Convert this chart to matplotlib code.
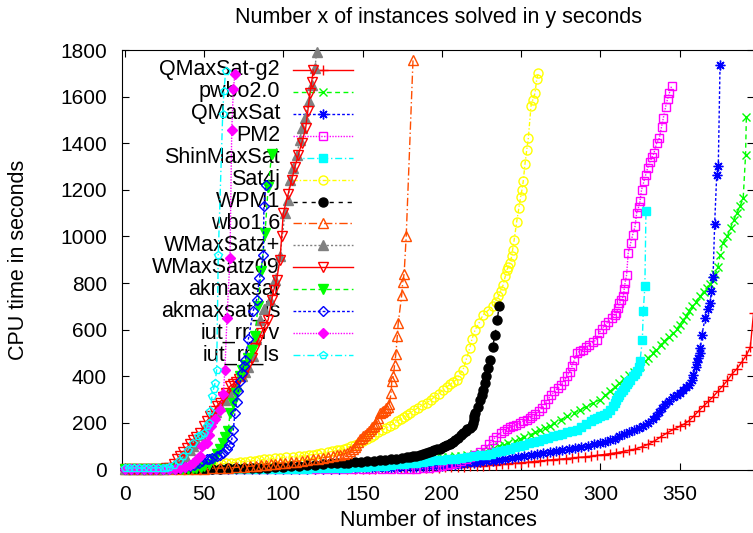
import matplotlib
matplotlib.use('Agg')
import matplotlib.pyplot as plt
from matplotlib.lines import Line2D

plt.rcParams['font.family'] = ['Liberation Sans', 'DejaVu Sans']

# (instances, seconds)
qmaxsat_g2 = [(0, 1), (5, 1), (10, 1), (15, 1), (20, 1), (25, 1), (30, 1), (35, 1), (40, 1), (45, 1), (50, 1),
              (55, 1.5), (60, 1.5), (65, 1.5), (70, 1.5), (75, 2), (80, 2), (85, 2), (90, 2), (95, 2), (100, 2),
              (105, 2), (110, 2.5), (115, 2.5), (120, 3), (125, 3), (130, 3), (135, 3), (140, 3), (145, 3.5),
              (150, 3.5), (154, 4), (158, 4), (162, 4.5), (166, 4.5), (170, 5), (174, 5), (178, 5.5), (182, 6),
              (186, 6.5), (190, 7), (194, 8), (198, 8.5), (202, 9.5), (206, 10.5), (210, 11.5), (214, 12.5),
              (218, 14), (222, 15), (226, 17), (230, 18.5), (234, 21), (238, 23), (242, 25), (246, 27),
              (250, 29), (254, 31), (258, 34), (262, 37), (266, 39), (270, 42), (274, 44), (278, 47), (282, 49),
              (286, 52), (290, 54), (294, 57), (298, 61), (302, 64), (306, 68), (310, 72), (314, 77), (318, 82),
              (322, 88), (326, 97), (330, 108), (334, 122), (338, 140), (342, 157), (346, 172), (350, 185),
              (353, 196), (356, 210), (359, 230), (362, 252), (365, 272), (368, 292), (371, 312), (374, 335),
              (377, 358), (380, 382), (383, 410), (386, 432), (389, 460), (392, 490), (394.5, 525),
              (396.5, 670)]
pwbo20 = [(0, 1), (5, 1), (10, 1), (15, 1), (20, 1), (25, 1), (30, 1.5), (35, 1.5), (40, 2), (45, 2), (50, 2.5),
          (55, 3), (60, 3), (65, 3.5), (70, 4), (75, 4.5), (80, 5), (85, 5.5), (90, 6), (95, 7), (100, 8),
          (105, 9), (110, 10), (115, 11), (120, 13), (125, 14), (130, 17), (135, 19), (140, 22), (144, 24),
          (148, 26), (152, 28), (156, 30), (160, 33), (164, 35), (168, 38), (172, 40), (176, 43), (180, 45),
          (184, 47), (188, 48), (192, 50), (196, 52), (200, 53), (204, 55), (208, 57), (212, 60), (216, 62),
          (220, 66), (224, 70), (227, 77), (230, 84), (233, 92), (236, 100), (239, 107), (242, 114),
          (246, 122), (249, 129), (252, 138), (256, 150), (259, 159), (262, 168), (265, 177), (268, 186),
          (271, 200), (275, 214), (279, 228), (283, 243), (287, 256), (291, 270), (295, 285), (300, 300),
          (303, 318), (306, 335), (309, 353), (312, 371), (315, 388), (318, 405), (321, 420), (325, 443),
          (328, 464), (330, 478), (333, 500), (335, 514), (338, 535), (340, 550), (343, 568), (346, 586),
          (348, 603), (350, 620), (352, 640), (354, 657), (356, 680), (358, 700), (360, 720), (363, 743),
          (365, 762), (367, 780), (369, 797), (371, 814), (372.5, 840), (374, 871), (375.5, 920), (377, 971),
          (380, 1000), (382, 1037), (384, 1070), (386, 1100), (388, 1130), (390, 1164), (391.5, 1350),
          (392, 1514)]
qmaxsat = [(0, 0.5), (5, 0.5), (10, 0.5), (15, 0.5), (20, 0.5), (25, 0.5), (30, 0.5), (35, 0.5), (40, 1),
           (45, 1), (50, 1), (55, 1), (60, 1), (65, 1), (70, 1), (75, 1.2), (80, 1.5), (85, 1.5), (90, 1.8),
           (95, 2), (100, 2), (105, 2.2), (110, 2.5), (115, 2.8), (120, 3), (125, 3.3), (130, 3.5), (135, 4),
           (140, 4.5), (145, 5), (148, 5.5), (152, 6), (156, 6.5), (160, 7), (164, 7.5), (168, 8), (172, 8.5),
           (176, 9), (180, 10), (184, 11), (188, 12.5), (192, 14), (196, 15.5), (200, 17), (204, 19), (208, 21),
           (212, 23.5), (216, 26), (220, 28.5), (224, 31), (228, 34.5), (232, 38), (236, 42), (240, 46),
           (244, 50), (248, 54), (252, 58), (256, 62), (260, 66), (264, 71), (268, 75), (272, 79), (276, 83),
           (280, 87), (284, 92), (288, 97), (292, 102), (296, 108), (300, 114), (303, 119), (306, 125),
           (309, 133), (312, 143), (315, 152), (318, 162), (321, 170), (324, 178), (327, 186), (330, 200),
           (333, 216), (335, 229), (337, 245), (339, 262), (341, 280), (343, 292), (346, 310), (348, 320),
           (350, 329), (352, 340), (354, 352), (356, 364), (357.5, 385), (358.5, 407), (360, 440), (361, 460),
           (361.7, 479), (362.5, 500), (363, 520), (364, 579), (366, 650), (368, 690), (369, 714), (370, 764),
           (371, 828), (372, 1053), (373.3, 1264), (374.3, 1303), (375.4, 1736)]
pm2 = [(0, 0.5), (6, 0.5), (12, 0.5), (18, 0.5), (24, 0.5), (30, 0.5), (36, 0.5), (42, 0.5), (48, 0.5),
       (54, 0.5), (60, 0.5), (66, 0.5), (72, 0.5), (78, 0.5), (84, 0.5), (90, 0.5), (96, 0.5), (102, 0.5),
       (108, 0.5), (114, 0.5), (120, 0.5), (126, 0.5), (132, 0.5), (138, 0.5), (144, 0.5), (150, 0.5),
       (156, 0.5), (162, 1), (168, 1), (174, 1), (180, 2), (184, 3), (188, 5), (192, 8), (196, 11), (200, 15),
       (203, 20), (206, 25), (209, 30), (212, 37), (215, 43), (218, 52), (221, 62), (224, 73), (227, 88),
       (230, 110), (232, 125), (234, 140), (237, 157), (239, 166), (241, 175), (243, 181), (245, 186),
       (247, 193), (249, 200), (251, 207), (253.5, 214), (255.5, 221), (257, 228), (259, 237), (261, 250),
       (263, 264), (265, 282), (267, 302), (269, 320), (271, 335), (273, 348), (275, 362), (277, 380),
       (279, 400), (280.5, 420), (282, 443), (283.5, 470), (285, 500), (287, 507), (289, 514), (291, 525),
       (293, 535), (295, 545), (297.6, 557), (299, 585), (301, 605), (303, 620), (305, 635), (307, 650),
       (309, 662), (310, 671), (311, 692), (312, 714), (313.2, 728), (314.4, 743), (315, 775), (315.5, 800),
       (316.5, 836), (317.5, 931), (319, 970), (320.3, 1007), (321.8, 1043), (322.8, 1100), (324, 1125),
       (324.9, 1150), (325.9, 1200), (327.4, 1236), (328.5, 1264), (329.7, 1293), (331.2, 1321),
       (332.5, 1340), (333.7, 1357), (335.4, 1400), (337.1, 1422), (338.5, 1470), (339.6, 1507),
       (341.1, 1557), (342.3, 1590), (343.4, 1614), (344.9, 1646)]
shinmaxsat = [(0, 0.5), (5, 0.5), (10, 0.5), (15, 0.5), (20, 0.5), (25, 0.5), (30, 0.5), (35, 0.5), (40, 0.5),
              (45, 0.5), (50, 0.5), (55, 0.5), (60, 1), (65, 1), (70, 1), (75, 1), (80, 1.5), (85, 1.5), (90, 2),
              (95, 2), (100, 2.5), (105, 3), (110, 3.5), (115, 4), (120, 5), (125, 5.5), (130, 6), (136, 7),
              (140, 8), (144, 9), (148, 10.5), (152, 12), (156, 13.5), (160, 15), (164, 17), (168, 19),
              (172, 21.5), (176, 24), (180, 27), (184, 30), (188, 33), (192, 36), (196, 39), (200, 42),
              (204, 44.5), (208, 47), (212, 50), (216, 53.5), (220, 57), (224, 60.5), (228, 64), (231, 68),
              (234, 74), (237, 79), (240, 84), (243, 90), (246, 95), (249, 100), (252, 107), (255, 112),
              (258, 118), (261, 124), (264, 130), (267, 136), (270, 143), (273, 148), (276, 154), (279, 160),
              (282, 165), (285, 171), (288, 182), (291, 195), (294, 207), (296, 216), (298, 222), (300, 228),
              (302, 235), (304, 243), (306, 256), (308, 271), (309, 285), (310, 300), (311, 310), (312, 320),
              (313.2, 332), (314.4, 343), (315.5, 354), (316.5, 365), (317.5, 375), (318.6, 386), (320.5, 400),
              (321.5, 410), (322.8, 421), (324, 440), (325, 467), (326.4, 557), (327, 679), (328, 786),
              (328.7, 1110)]
sat4j = [(0, 1), (4, 1), (8, 1.5), (12, 1.5), (16, 2), (20, 2.5), (24, 3), (28, 3.5), (32, 4), (36, 5), (40, 6),
         (43, 7.5), (46, 9), (49, 11), (52, 13), (55, 17), (58, 21), (61, 24), (64, 26), (67, 28), (70, 30),
         (73, 32), (76, 34), (79, 36), (82, 38), (85, 40), (88, 43), (91, 45), (95, 48), (98, 50), (102, 53),
         (106, 55), (110, 57), (113, 60), (116, 62), (119, 64), (121, 66), (124, 70), (128, 74), (131, 78),
         (134, 82), (136, 85), (138, 88), (140, 93), (143, 100), (145, 106), (148, 115), (150, 122),
         (152.6, 129), (155, 140), (157, 150), (160, 160), (162, 168), (164.5, 177), (167, 186),
         (169.5, 197), (172, 208), (174, 217), (176, 225), (178, 234), (180, 243), (182.5, 254), (185, 265),
         (187.5, 275), (190.4, 286), (193, 298), (195, 310), (198, 326), (201, 343), (203, 354), (205, 365),
         (207, 375), (209.3, 386), (211, 405), (213.4, 429), (215.5, 475), (217.6, 521), (219, 560),
         (221, 600), (223.5, 630), (226, 664), (229, 682), (232.4, 700), (234, 720), (235.6, 743),
         (237, 765), (238.7, 793), (240, 830), (241, 857), (242, 870), (243, 886), (244, 915), (244.6, 943),
         (245.6, 986), (247.2, 1064), (248.5, 1120), (249.7, 1171), (250.5, 1200), (251.3, 1236),
         (252.4, 1311), (253.5, 1371), (254.5, 1421), (256.2, 1560), (257.3, 1586), (258.7, 1614),
         (259.8, 1674), (260.8, 1700)]
wpm1 = [(0, 1), (5, 1), (10, 1), (15, 1.5), (20, 1.5), (25, 2), (30, 2), (35, 2.5), (40, 3), (45, 3), (50, 3.5),
        (55, 4), (60, 4), (65, 4.5), (70, 5), (75, 5.5), (80, 6), (85, 7), (90, 8.5), (95, 10), (100, 12),
        (105, 14), (110, 16), (115, 18), (120, 21), (125, 24), (130, 26), (134, 27), (138, 28), (141, 29.5),
        (145, 31), (149, 33.5), (153, 36), (157, 38), (161, 40), (164, 42.5), (168, 45), (171, 47), (175, 50),
        (178, 53), (180, 55), (182, 57.5), (184, 60), (186, 63), (188, 66), (190, 70), (192, 75),
        (193.5, 78), (195, 82), (197, 86), (198.8, 90), (200.5, 95), (202, 100), (203.5, 105), (205, 110),
        (206, 114), (207, 118), (208.5, 126), (210, 135), (212, 146), (213.5, 157), (215, 165), (216, 172),
        (217.5, 179), (218.8, 186), (219.5, 200), (220, 215), (220.5, 230), (221, 243), (222.5, 270),
        (224, 300), (225, 320), (226, 343), (227, 370), (228, 400), (229.2, 435), (230.4, 471), (232, 525),
        (233.5, 579), (235, 643), (236, 700)]
wbo16 = [(0, 0.5), (5, 0.5), (10, 0.5), (15, 1), (20, 1), (25, 1.5), (30, 2), (35, 2.5), (40, 3), (45, 3.5),
         (50, 4), (55, 5), (60, 6), (65, 7), (70, 9), (75, 11), (79, 14), (83, 17), (86, 19), (89, 21),
         (92, 23), (95, 25), (98, 27), (101, 29), (105, 31), (108, 34), (112, 37), (115, 40), (119, 43),
         (122, 47), (125, 50), (128, 53), (131.5, 57), (134, 61), (136, 64), (138, 67), (140, 71), (142, 78),
         (144, 86), (145, 95), (146, 105), (147.2, 117), (148.4, 129), (149.5, 136), (150.5, 143),
         (151.5, 150), (152.6, 157), (154, 166), (155, 175), (156, 182), (157, 188), (158, 194), (159, 200),
         (160, 222), (161, 243), (162, 247), (163, 250), (164, 256), (165, 262), (166, 270), (166.8, 279),
         (168, 330), (168.4, 379), (169.4, 400), (170.2, 450), (171, 497), (171.9, 574), (172.5, 629),
         (174.7, 750), (175.3, 803), (176.2, 840), (177.5, 1000), (181.8, 1757)]
wmaxsatz_plus = [(0, 1), (3, 1), (6, 1), (9, 1), (12, 1), (15, 1.5), (18, 1.5), (21, 2), (24, 3), (26, 5),
                 (28, 8), (31, 20), (34, 35), (36, 47), (38, 60), (41, 85), (43, 100), (45.4, 114), (48, 150),
                 (50, 170), (51.7, 186), (55, 220), (57.5, 245), (60, 271), (63, 300), (66, 330), (68, 345),
                 (70.6, 357), (74, 400), (76, 420), (78, 440), (81, 486), (83, 560), (85.3, 643), (88, 690),
                 (91.6, 729), (94.8, 814), (98, 914), (101, 1100), (103.2, 1157), (104.2, 1243), (106.3, 1293),
                 (108.4, 1350), (110.6, 1414), (111.6, 1464), (113.7, 1507), (116, 1580), (118, 1650),
                 (120, 1721), (121, 1793)]
wmaxsatz09 = [(0, 1), (3, 1), (6, 1), (9, 1), (12, 1), (15, 1.5), (18, 1.5), (21, 2), (24, 3), (26, 5), (28, 8),
              (31, 25), (33, 43), (35, 60), (37, 75), (39, 92), (41, 110), (43, 125), (45, 140), (47.5, 157),
              (50, 186), (52, 210), (54, 229), (56, 250), (58, 271), (60, 286), (62, 310), (64, 330),
              (66.4, 357), (68.5, 368), (70, 375), (72, 388), (74.8, 400), (77, 440), (80, 480), (82, 520),
              (84.2, 557), (86, 585), (88, 610), (90.5, 643), (92.7, 729), (94, 770), (95.8, 814), (97.9, 900),
              (99, 1000), (100, 1100), (103, 1180), (105.3, 1243), (107.4, 1300), (109.5, 1350), (111.6, 1400),
              (114.1, 1464), (115.5, 1540), (116.8, 1614), (117.9, 1664), (118.9, 1714)]
akmaxsat = [(0, 0.5), (4, 0.5), (8, 0.5), (12, 0.5), (16, 1), (20, 1), (24, 1.5), (28, 2), (32, 2.5), (36, 3),
            (40, 4), (43, 6), (45, 8), (48, 11), (50, 15), (53, 25), (56, 45), (58, 65), (60, 90), (62.2, 114),
            (63.5, 140), (65.3, 164), (66.4, 243), (68.5, 286), (70, 330), (72.7, 400), (74, 425), (76, 450),
            (78, 480), (80, 514), (82.2, 571), (84, 700), (86, 850), (88.5, 1014), (90.5, 1214), (92.7, 1354)]
akmaxsat_ls = [(0, 0.5), (4, 0.5), (8, 0.5), (12, 0.5), (16, 1), (20, 1), (24, 1.5), (28, 2.5), (32, 4), (35, 6),
               (38, 10), (41, 14), (44, 20), (47, 28), (49, 35), (51.7, 43), (53, 46), (55, 50), (58, 57),
               (60, 64), (62, 72), (64.3, 86), (66, 105), (67.5, 129), (68.5, 170), (69.5, 243), (70.5, 290),
               (71.6, 336), (73, 380), (73.8, 414), (75, 445), (75.9, 471), (78, 560), (81, 679), (83.2, 729),
               (85, 820), (87.4, 921), (87.8, 1129), (88.9, 1221)]
iut_rr_rv = [(0, 0.5), (4, 0.5), (8, 0.5), (12, 0.5), (16, 1), (20, 1), (24, 1.5), (28, 2), (32, 3), (35, 5),
             (38, 10), (41.2, 20), (43.3, 29), (45.4, 45), (47.5, 57), (48.5, 100), (50, 108), (51.7, 114),
             (53, 150), (54.5, 186), (57, 215), (60, 257), (62.2, 325), (63.2, 429), (64.5, 650), (66.4, 907),
             (67.5, 1457), (68.5, 1631), (69.5, 1697)]
iut_rr_ls = [(0, 6), (3, 6), (6, 6), (9, 6), (12, 6), (15, 7), (18, 7), (21, 7), (24, 8), (26, 8), (28, 9),
             (31, 20), (34, 35), (37, 57), (40, 85), (43, 114), (46, 143), (48, 150), (50, 158), (52, 185),
             (53, 200), (54, 250), (55, 314), (56, 345), (57, 372), (58, 429), (59, 921), (61.8, 1526),
             (62.6, 1626), (63.7, 1711)]

names = ['QMaxSat-g2', 'pwbo2.0', 'QMaxSat', 'PM2', 'ShinMaxSat', 'Sat4j', 'WPM1', 'wbo1.6',
         'WMaxSatz+', 'WMaxSatz09', 'akmaxsat', 'akmaxsat_ls', 'iut_rr_rv', 'iut_rr_ls']
series = [qmaxsat_g2, pwbo20, qmaxsat, pm2, shinmaxsat, sat4j, wpm1, wbo16,
          wmaxsatz_plus, wmaxsatz09, akmaxsat, akmaxsat_ls, iut_rr_rv, iut_rr_ls]

# gnuplot-like line types
colors = ['#ff0000', '#00ff00', '#0000ff', '#ff00ff', '#00ffff', '#ffff00', '#000000', '#ff4d00',
          '#808080', '#ff0000', '#00ff00', '#0000ff', '#ff00ff', '#00ffff']
dashes = ['-', (0, (3.5, 2.5)), (0, (2, 1.5)), (0, (1, 1)), (0, (5, 2, 1, 2)), (0, (3, 1.5, 1, 1.5)),
          (0, (3, 3.5)), (0, (6, 2, 1, 2)), (0, (1.5, 1.5)),
          '-', (0, (3.5, 2.5)), (0, (2, 1.5)), (0, (1, 1)), (0, (5, 2, 1, 2))]
markers = ['+', 'x', (8, 2, 0), 's', 's', 'o', 'o', '^', '^', 'v', 'v', 'D', 'D', 'p']
filled = [True, True, True, False, True, False, True, False, True, False, True, False, True, False]
msizes = [7, 6, 7, 5.5, 5.5, 6.5, 6.5, 6.5, 6.5, 6.5, 6.5, 5, 5, 6]

W, H = 753, 533
fig = plt.figure(figsize=(W / 100, H / 100), dpi=100)
ax = fig.add_axes([122 / W, 63.5 / H, 631.5 / W, 419.5 / H])

for i, pts in enumerate(series):
    xs = [p[0] for p in pts]
    ys = [p[1] for p in pts]
    mfc = colors[i] if filled[i] else 'none'
    ax.plot(xs, ys, color=colors[i], linestyle=dashes[i], linewidth=1.0,
            marker=markers[i], markersize=msizes[i], markerfacecolor=mfc,
            markeredgecolor=colors[i], markeredgewidth=1.0, clip_on=False, zorder=3)

    # key entry, gnuplot style: right aligned text, sample line on the right
    ky = 1 - (70 + i * 21.92) / H
    ax.text(280 / W, ky, names[i], transform=fig.transFigure, ha='right', va='center',
            fontsize=15.5, zorder=1)
    ax.add_line(Line2D([293 / W, 353 / W], [ky, ky], transform=fig.transFigure, color=colors[i],
                       linestyle=dashes[i], linewidth=1.0, clip_on=False, zorder=2))
    ax.add_line(Line2D([323 / W], [ky], transform=fig.transFigure, color=colors[i], linestyle='none',
                       marker=markers[i], markersize=msizes[i], markerfacecolor=mfc,
                       markeredgecolor=colors[i], markeredgewidth=1.0, clip_on=False, zorder=2))

ax.set_xlim(-1.7, 396.5)
ax.set_ylim(0, 1800)
ax.set_xticks(range(0, 351, 50))
ax.set_yticks(range(0, 1801, 200))
ax.tick_params(direction='in', length=5, width=0.8, top=True, right=True, labelsize=15, pad=10.8)
for s in ax.spines.values():
    s.set_linewidth(0.8)

fig.text(438 / W, 1 - 17 / H, 'Number x of instances solved in y seconds', ha='center', va='center',
         fontsize=15.5)
fig.text(438 / W, 1 - 521 / H, 'Number of instances', ha='center', va='center', fontsize=15.5)
fig.text(19 / W, 1 - 260 / H, 'CPU time in seconds', ha='center', va='center', rotation=90, fontsize=15.5)

fig.savefig('out.png', dpi=100)
